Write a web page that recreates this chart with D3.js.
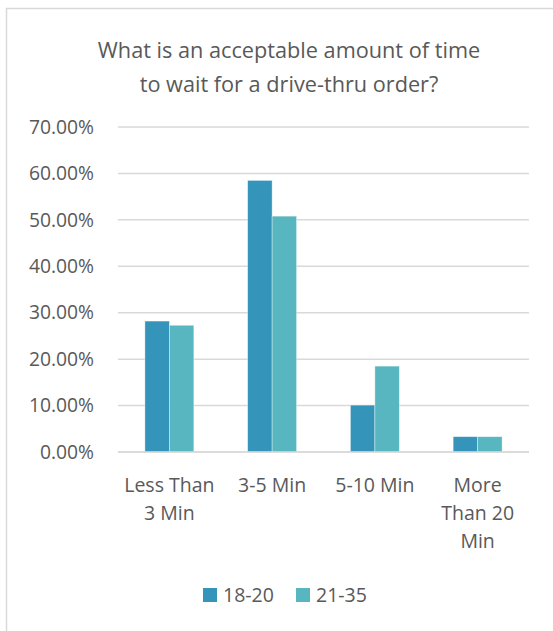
<!DOCTYPE html>
<html>
<head>
<meta charset="utf-8">
<script src="https://cdn.jsdelivr.net/npm/d3@7"></script>
<style>
  body { margin: 0; background: #fff; }
  text { font-family: "Open Sans", sans-serif; fill: #595959; }
</style>
</head>
<body>
<svg id="chart" width="553" height="631"></svg>
<script>
// data
var categories = ['Less Than 3 Min', '3-5 Min', '5-10 Min', 'More Than 20 Min'];
var catLines = [['Less Than', '3 Min'], ['3-5 Min'], ['5-10 Min'], ['More', 'Than 20', 'Min']];
var seriesNames = ['18-20', '21-35'];
var values1820 = [0.282, 0.585, 0.101, 0.033];
var values2135 = [0.273, 0.508, 0.185, 0.033];
var yTicks = [0, 0.1, 0.2, 0.3, 0.4, 0.5, 0.6, 0.7];
var colors = ['#3494BA', '#58B6C0'];

var svg = d3.select('#chart');

// chart area border
svg.append('rect')
    .attr('x', 6.5).attr('y', 8.5)
    .attr('width', 560).attr('height', 640)
    .attr('fill', '#fff')
    .attr('stroke', '#d9d9d9')
    .attr('stroke-width', 1.5);

// title
var title = svg.append('text')
    .attr('text-anchor', 'middle')
    .style('font-size', '21.7px');
title.append('tspan').attr('x', 289).attr('y', 58).text('What is an acceptable amount of time');
title.append('tspan').attr('x', 289).attr('y', 92).text('to wait for a drive-thru order?');

var x0 = d3.scaleBand().domain(categories).range([118, 529]);
var x1 = d3.scaleBand().domain(seriesNames)
    .range([0, x0.bandwidth()])
    .paddingOuter(1.1);
var y = d3.scaleLinear().domain([0, 0.7]).range([452, 127]);

// gridlines
svg.append('g').selectAll('line')
    .data(yTicks)
    .enter().append('line')
    .attr('x1', 118).attr('x2', 529)
    .attr('y1', function (d) { return y(d); })
    .attr('y2', function (d) { return y(d); })
    .attr('stroke', '#d9d9d9')
    .attr('stroke-width', 1.5);

// y tick labels
var yAxis = d3.axisLeft(y).tickValues(yTicks).tickSize(0).tickPadding(0)
    .tickFormat(function (d) { return (d * 100).toFixed(2) + '%'; });
var gy = svg.append('g').attr('transform', 'translate(94,0)').call(yAxis);
gy.select('.domain').remove();
gy.selectAll('text')
    .style('font-size', '19.3px')
    .style('font-family', '"Open Sans", sans-serif')
    .attr('fill', '#595959');

// bars
var rows = categories.map(function (c, i) {
    return { cat: c, vals: [values1820[i], values2135[i]] };
});
var groups = svg.append('g').selectAll('g')
    .data(rows)
    .enter().append('g')
    .attr('transform', function (d) { return 'translate(' + x0(d.cat) + ',0)'; });

groups.selectAll('rect')
    .data(function (d) {
        return d.vals.map(function (v, k) { return { name: seriesNames[k], v: v, k: k }; });
    })
    .enter().append('rect')
    .attr('x', function (d) { return x1(d.name); })
    .attr('width', x1.bandwidth())
    .attr('y', function (d) { return y(d.v); })
    .attr('height', function (d) { return y(0) - y(d.v); })
    .attr('fill', function (d) { return colors[d.k]; })
    .attr('stroke', '#fff')
    .attr('stroke-opacity', 0.5)
    .attr('stroke-width', 0.75);

// redraw baseline on top
svg.append('line')
    .attr('x1', 118).attr('x2', 529)
    .attr('y1', y(0)).attr('y2', y(0))
    .attr('stroke', '#d9d9d9')
    .attr('stroke-width', 1.5);

// category labels
var xl = svg.append('g').selectAll('text')
    .data(categories)
    .enter().append('text')
    .attr('text-anchor', 'middle')
    .style('font-size', '19.5px');
xl.each(function (c, i) {
    var t = d3.select(this);
    catLines[i].forEach(function (line, j) {
        t.append('tspan')
            .attr('x', x0(c) + x0.bandwidth() / 2)
            .attr('y', 491.5 + j * 28)
            .text(line);
    });
});

// legend
var legendX = [203, 296];
var legend = svg.append('g').selectAll('g')
    .data(seriesNames)
    .enter().append('g')
    .attr('transform', function (d, i) { return 'translate(' + legendX[i] + ',588)'; });
legend.append('rect')
    .attr('width', 14).attr('height', 14)
    .attr('fill', function (d, i) { return colors[i]; });
legend.append('text')
    .attr('x', 20).attr('y', 13.7)
    .style('font-size', '19.5px')
    .text(function (d) { return d; });
</script>
</body>
</html>
